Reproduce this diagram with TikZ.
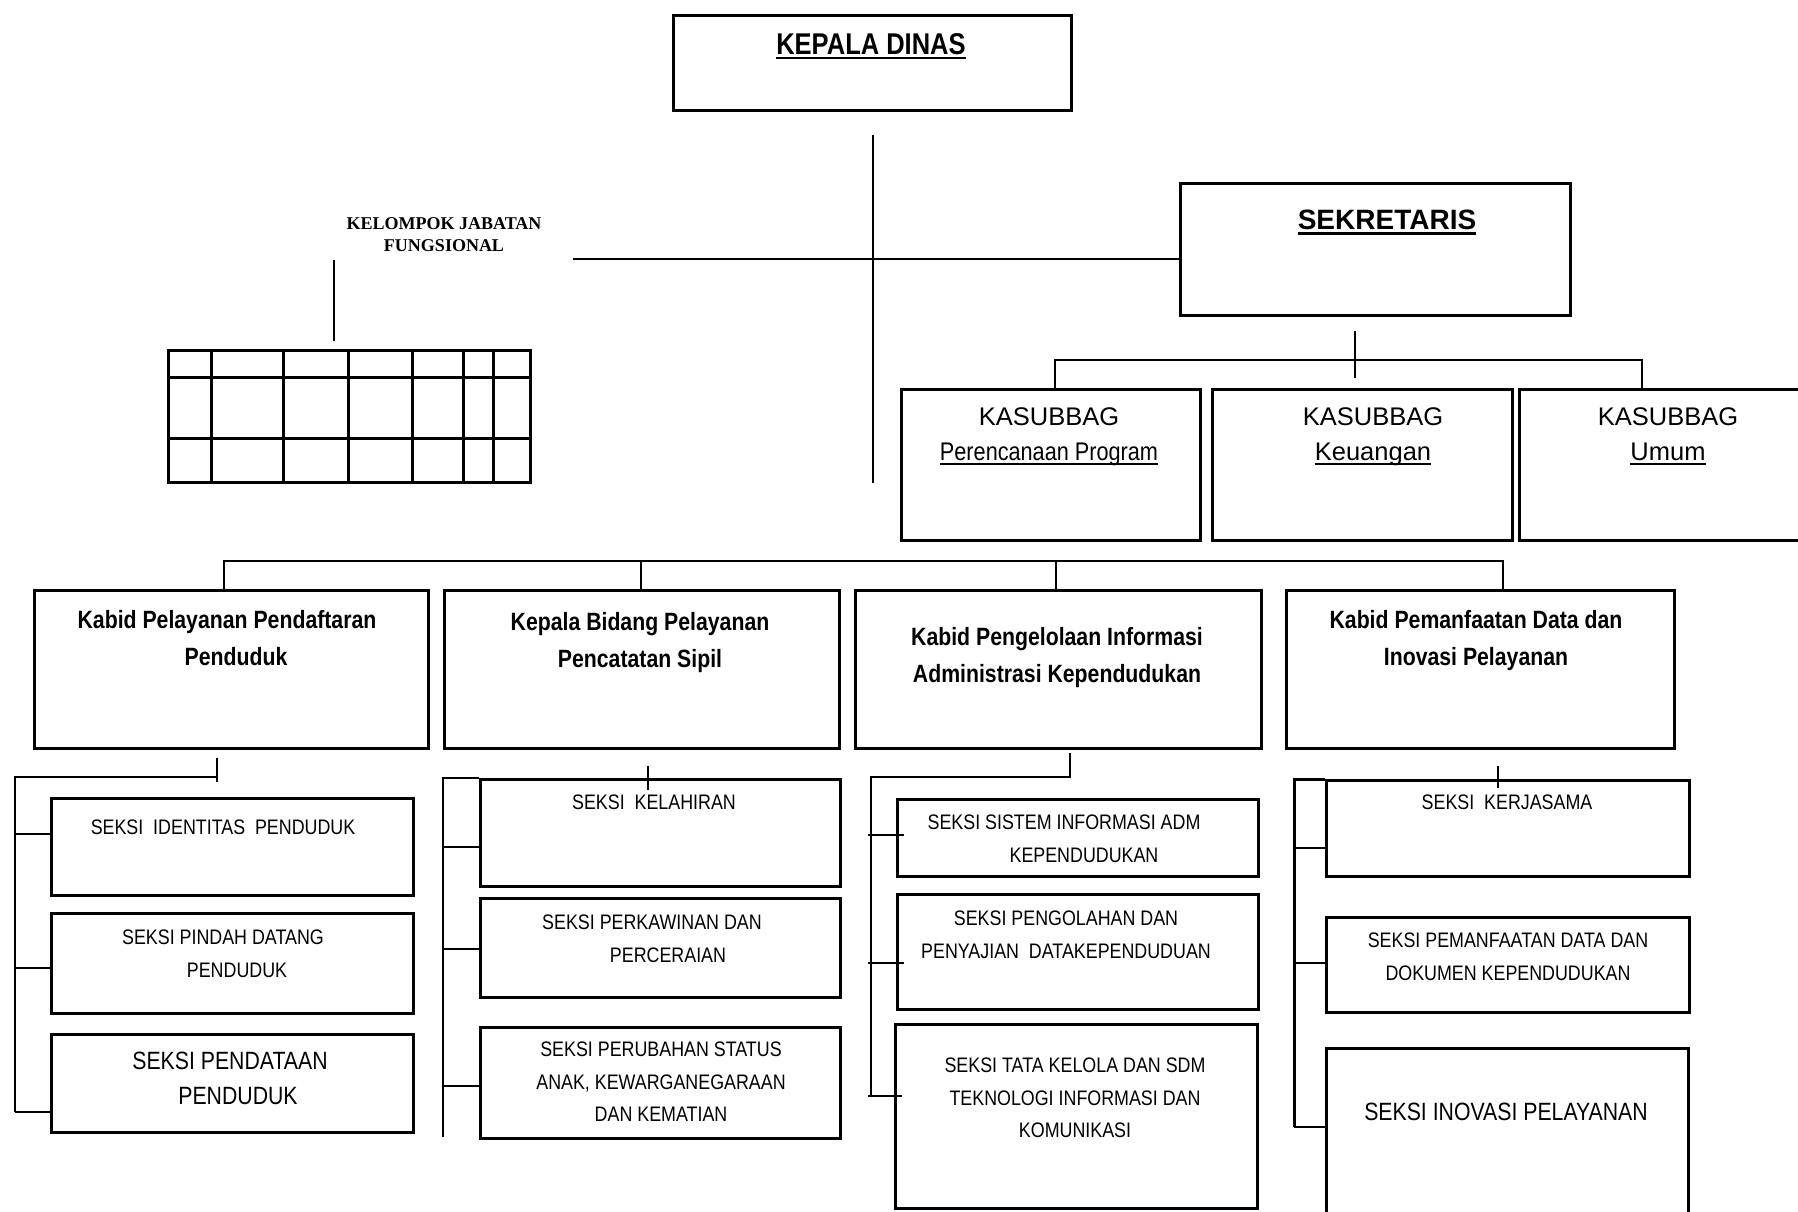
\documentclass[tikz,border=0pt]{standalone}
\usepackage{fontspec}
\setmainfont{Liberation Sans}
\newfontfamily\sempit{Liberation Sans}[FakeStretch=0.85]
\newfontfamily\serifkjf{Liberation Serif}
\newcommand{\garis}[1]{\setbox0\hbox{#1}\leavevmode\rlap{\rule[-5pt]{\wd0}{2.5pt}}\box0}

\begin{document}
\begin{tikzpicture}[x=1pt, y=-1pt,
  kotak/.style={draw, line width=3pt, anchor=north west, inner sep=0pt},
  hubung/.style={line width=2pt},
  teks/.style={anchor=north, inner sep=0pt, align=center},
  kepala/.style={teks, font=\sempit\bfseries\fontsize{30}{36}\selectfont},
  kasub/.style={teks, font=\fontsize{25.5}{35}\selectfont},
  kabid/.style={teks, font=\sempit\bfseries\fontsize{25}{37}\selectfont},
  seksi/.style={teks, font=\sempit\fontsize{21}{32.5}\selectfont},
  seksibesar/.style={teks, font=\sempit\fontsize{25}{35}\selectfont}]
\path[use as bounding box, fill=white] (0,0) rectangle (1798,1212);

\node[kotak, minimum width=398pt, minimum height=95pt] (kadis) at (672,14) {};
\node[kepala] (tkadis) at (871,33) {\garis{KEPALA DINAS}};
\node[kotak, minimum width=390pt, minimum height=132pt] (sekre) at (1179,182) {};
\node[teks, font=\bfseries\fontsize{28}{34}\selectfont] (tsekre) at (1387,210) {\garis{SEKRETARIS}};
\node[teks, font=\serifkjf\bfseries\fontsize{18}{22}\selectfont] (tkjf) at (444,217) {KELOMPOK JABATAN\\FUNGSIONAL};
\node[kotak, minimum width=362pt, minimum height=132pt] (tabel) at (167,349) {};
\foreach \x in {211,283,348,412,463,493} \draw[line width=3pt] (\x,349) -- (\x,481);
\foreach \y in {377,438} \draw[line width=3pt] (167,\y) -- (529,\y);

\node[kotak, minimum width=299pt, minimum height=151pt] (kasub1) at (900,388) {};
\node[kotak, minimum width=300pt, minimum height=151pt] (kasub2) at (1211,388) {};
\node[kotak, minimum width=300pt, minimum height=151pt] (kasub3) at (1518,388) {};
\node[kasub] (tkasub1) at (1049,407) {KASUBBAG\\{\sempit\garis{Perencanaan Program}}};
\node[kasub] (tkasub2) at (1373,407) {KASUBBAG\\\garis{Keuangan}};
\node[kasub] (tkasub3) at (1668,407) {KASUBBAG\\\garis{Umum}};

\node[kotak, minimum width=394pt, minimum height=158pt] (kabid1) at (33,589) {};
\node[kotak, minimum width=395pt, minimum height=158pt] (kabid2) at (443,589) {};
\node[kotak, minimum width=406pt, minimum height=158pt] (kabid3) at (854,589) {};
\node[kotak, minimum width=388pt, minimum height=158pt] (kabid4) at (1285,589) {};
\node[kabid] (tkabid1) at (227,610) {Kabid Pelayanan Pendaftaran\\\hspace*{18pt}Penduduk};
\node[kabid] (tkabid2) at (640,612) {Kepala Bidang Pelayanan\\Pencatatan Sipil};
\node[kabid] (tkabid3) at (1057,627) {Kabid\ Pengelolaan\ Informasi\\Administrasi\ Kependudukan};
\node[kabid] (tkabid4) at (1476,610) {Kabid Pemanfaatan Data dan\\Inovasi Pelayanan};

\node[kotak, minimum width=362pt, minimum height=97pt] (s11) at (50,797) {};
\node[kotak, minimum width=362pt, minimum height=100pt] (s12) at (50,912) {};
\node[kotak, minimum width=362pt, minimum height=98pt] (s13) at (50,1033) {};
\node[seksi] at (223,820) {SEKSI\ \ IDENTITAS\ \ PENDUDUK};
\node[seksi] at (223,930) {SEKSI PINDAH DATANG\\\hspace*{28pt}PENDUDUK};
\node[seksibesar] at (230,1052) {SEKSI PENDATAAN\\\hspace*{16pt}PENDUDUK};

\node[kotak, minimum width=360pt, minimum height=107pt] (s21) at (479,778) {};
\node[kotak, minimum width=360pt, minimum height=99pt] (s22) at (479,897) {};
\node[kotak, minimum width=360pt, minimum height=111pt] (s23) at (479,1026) {};
\node[seksi] at (654,795) {SEKSI\ \ KELAHIRAN};
\node[seksi] at (652,915) {SEKSI PERKAWINAN DAN\\\hspace*{32pt}PERCERAIAN};
\node[seksi] at (661,1042) {SEKSI PERUBAHAN STATUS\\ANAK, KEWARGANEGARAAN\\DAN KEMATIAN};

\node[kotak, minimum width=361pt, minimum height=77pt] (s31) at (896,798) {};
\node[kotak, minimum width=361pt, minimum height=115pt] (s32) at (896,893) {};
\node[kotak, minimum width=362pt, minimum height=184pt] (s33) at (894,1023) {};
\node[seksi] at (1064,815) {SEKSI SISTEM INFORMASI ADM\\\hspace*{40pt}KEPENDUDUKAN};
\node[seksi] at (1066,911) {SEKSI PENGOLAHAN DAN\\PENYAJIAN\ \ DATAKEPENDUDUAN};
\node[seksi] at (1075,1058) {SEKSI TATA KELOLA DAN SDM\\TEKNOLOGI INFORMASI DAN\\KOMUNIKASI};

\node[kotak, minimum width=363pt, minimum height=96pt] (s41) at (1325,779) {};
\node[kotak, minimum width=363pt, minimum height=95pt] (s42) at (1325,916) {};
\node[kotak, minimum width=362pt, minimum height=190pt] (s43) at (1325,1047) {};
\node[seksi] at (1507,795) {SEKSI\ \ KERJASAMA};
\node[seksi] at (1508,933) {SEKSI PEMANFAATAN DATA DAN\\DOKUMEN KEPENDUDUKAN};
\node[seksibesar] at (1506,1103) {SEKSI INOVASI PELAYANAN};

\coordinate (pusat) at (873,135);
\draw[hubung] (pusat) -- ++(0,348);
\coordinate (kjf) at (573,259);
\draw[hubung] (kjf) -- (kjf -| sekre.west);
\coordinate (kjf2) at (334,260);
\draw[hubung] (kjf2) -- ++(0,81);

\coordinate (sek) at (1355,331);
\coordinate (bar1) at (1055,360);
\coordinate (bar2) at (1642,360);
\draw[hubung] (sek) -- ++(0,47);
\draw[hubung] (bar1 |- kasub1.north) -- (bar1) -- (bar2) -- (bar2 |- kasub3.north);

\coordinate (b1) at (224,561);
\coordinate (b2) at (641,561);
\coordinate (b3) at (1056,561);
\coordinate (b4) at (1503,561);
\draw[hubung] (b1 |- kabid1.north) -- (b1) -- (b4) -- (b4 |- kabid4.north);
\draw[hubung] (b2) -- (b2 |- kabid2.north);
\draw[hubung] (b3) -- (b3 |- kabid3.north);

\coordinate (k1) at (217,758);
\coordinate (sp1) at (15,777);
\draw[hubung] (k1) -- ++(0,24);
\draw[hubung] (k1 |- sp1) -- (sp1) -- ++(0,335);
\foreach \y/\n in {834/s11, 968/s12, 1112/s13}
  \draw[hubung] (sp1 |- 0,\y) -- (\n.west |- 0,\y);

\coordinate (k2) at (648,766);
\coordinate (sp2) at (443,778);
\draw[hubung] (k2) -- ++(0,24);
\draw[hubung] (s21.north west) -- (sp2) -- ++(0,359);
\foreach \y/\n in {847/s21, 949/s22, 1086/s23}
  \draw[hubung] (sp2 |- 0,\y) -- (\n.west |- 0,\y);

\coordinate (k3) at (1070,753);
\coordinate (sp3) at (871,777);
\draw[hubung] (k3) -- (k3 |- sp3) -- (sp3) -- ++(0,319);
\foreach \y/\n in {835/s31, 963/s32, 1096/s33}
  \draw[hubung] (sp3 |- 0,\y) ++(-3,0) -- ([xshift=8pt]\n.west |- 0,\y);

\coordinate (k4) at (1498,766);
\coordinate (sp4) at (1294,779);
\draw[hubung] (k4) -- ++(0,22);
\draw[line width=3pt] (s41.north west) -- (sp4) -- ++(0,348);
\foreach \y/\n in {848/s41, 963/s42, 1127/s43}
  \draw[hubung] (sp4 |- 0,\y) -- (\n.west |- 0,\y);
\end{tikzpicture}
\end{document}
